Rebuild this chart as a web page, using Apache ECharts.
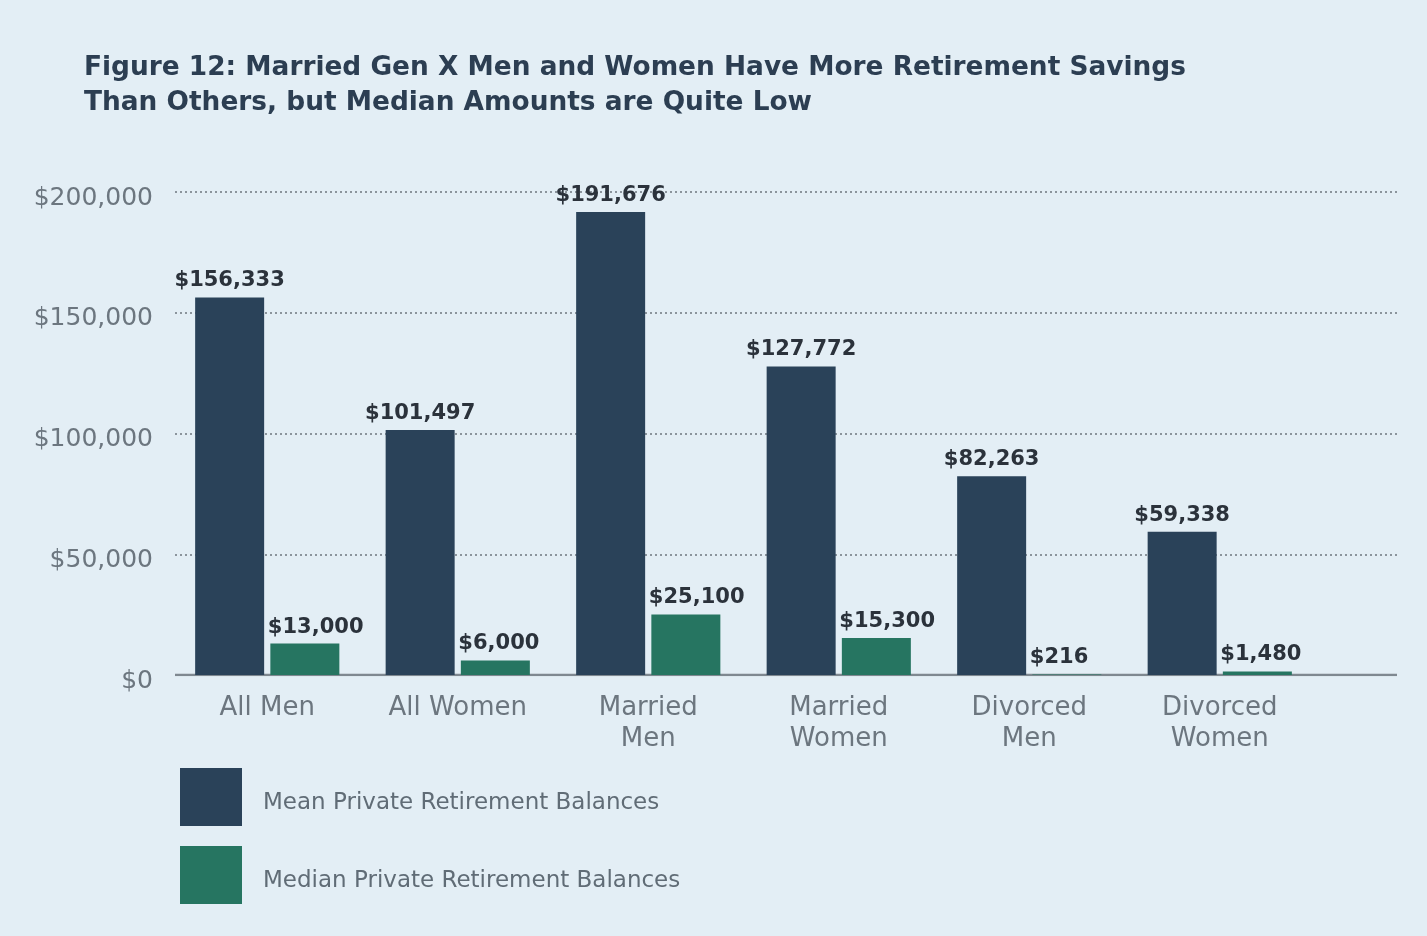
<!DOCTYPE html>
<html>
<head>
<meta charset="utf-8">
<script src="https://cdn.jsdelivr.net/npm/echarts@6/dist/echarts.min.js"></script>
<style>
  html, body { margin: 0; padding: 0; background: #e3eef5; }
  #chart { width: 1427px; height: 936px; }
</style>
</head>
<body>
<div id="chart"></div>
<script>
// Gen X private retirement balances by sex and marital status
const categories = ['All Men', 'All Women', 'Married\nMen', 'Married\nWomen', 'Divorced\nMen', 'Divorced\nWomen'];
const meanBalances = [156333, 101497, 191676, 127772, 82263, 59338];
const medianBalances = [13000, 6000, 25100, 15300, 216, 1480];
const seriesNames = ['Mean Private Retirement Balances', 'Median Private Retirement Balances'];
const yTicks = { min: 0, max: 200000, step: 50000 };
const titleText = 'Figure 12: Married Gen X Men and Women Have More Retirement Savings\nThan Others, but Median Amounts are Quite Low';

const FONT = 'DejaVu Sans';
const NAVY = '#2a4259';
const GREEN = '#267561';
const money = v => '$' + Number(v).toLocaleString('en-US');

const chart = echarts.init(document.getElementById('chart'), null, { renderer: 'canvas' });

chart.setOption({
  backgroundColor: '#e3eef5',
  animation: false,
  textStyle: { fontFamily: FONT },
  title: {
    text: titleText,
    left: 84,
    top: 51,
    padding: 0,
    textStyle: {
      fontFamily: FONT,
      fontWeight: 'bold',
      fontSize: 26.4,
      lineHeight: 35,
      color: '#2c3e52'
    }
  },
  legend: {
    orient: 'vertical',
    left: 180,
    top: 768,
    padding: 0,
    itemWidth: 62,
    itemHeight: 58,
    itemGap: 20,
    icon: 'rect',
    data: seriesNames,
    formatter: name => '{t|' + name + '}',
    textStyle: {
      rich: {
        t: {
          fontFamily: FONT,
          fontSize: 23,
          color: '#606c76',
          padding: [12, 0, 0, 16]
        }
      }
    }
  },
  grid: [
    // full-width frame carrying the value scale and dotted guides
    { left: 175, right: 30, top: 192, bottom: 261 },
    // bar area
    { left: 172, right: 112, top: 192, bottom: 261 }
  ],
  xAxis: [
    {
      gridIndex: 0,
      type: 'value',
      min: 0, max: 1,
      axisLabel: { show: false },
      axisTick: { show: false },
      splitLine: { show: false },
      axisLine: { show: false }
    },
    {
      gridIndex: 1,
      type: 'category',
      data: categories,
      axisLine: { show: false },
      axisTick: { show: false },
      axisLabel: {
        fontFamily: FONT,
        fontSize: 26,
        lineHeight: 31,
        color: '#6c767f',
        margin: 18,
        interval: 0
      }
    }
  ],
  yAxis: [
    {
      gridIndex: 0,
      type: 'value',
      min: yTicks.min,
      max: yTicks.max,
      interval: yTicks.step,
      axisLine: { show: false },
      axisTick: { show: false },
      axisLabel: {
        fontFamily: FONT,
        fontSize: 25,
        color: '#6c767f',
        margin: 22,
        verticalAlign: 'top',
        lineHeight: 12,
        formatter: money
      },
      splitLine: {
        lineStyle: { color: '#8b949c', width: 2, type: [2, 3] }
      }
    },
    {
      gridIndex: 1,
      type: 'value',
      min: yTicks.min,
      max: yTicks.max,
      show: false,
      splitLine: { show: false }
    }
  ],
  series: [
    {
      // baseline across the full frame
      type: 'line',
      xAxisIndex: 0,
      yAxisIndex: 0,
      data: [[0, 0], [1, 0]],
      symbol: 'none',
      silent: true,
      lineStyle: { color: '#7f8890', width: 2.5 },
      z: 1
    },
    {
      name: seriesNames[0],
      type: 'bar',
      xAxisIndex: 1,
      yAxisIndex: 1,
      data: meanBalances,
      barWidth: 69,
      barGap: '9%',
      itemStyle: { color: NAVY },
      label: {
        show: true,
        position: 'top',
        distance: 6,
        fontFamily: FONT,
        fontWeight: 'bold',
        fontSize: 21,
        color: '#2b323b',
        formatter: p => money(p.value)
      },
      z: 3
    },
    {
      name: seriesNames[1],
      type: 'bar',
      xAxisIndex: 1,
      yAxisIndex: 1,
      data: medianBalances,
      barWidth: 69,
      barGap: '9%',
      itemStyle: { color: GREEN },
      label: {
        show: true,
        position: 'top',
        distance: 6,
        align: 'left',
        offset: [-37, 0],
        fontFamily: FONT,
        fontWeight: 'bold',
        fontSize: 21,
        color: '#2b323b',
        formatter: p => money(p.value)
      },
      z: 3
    }
  ]
});
</script>
</body>
</html>
